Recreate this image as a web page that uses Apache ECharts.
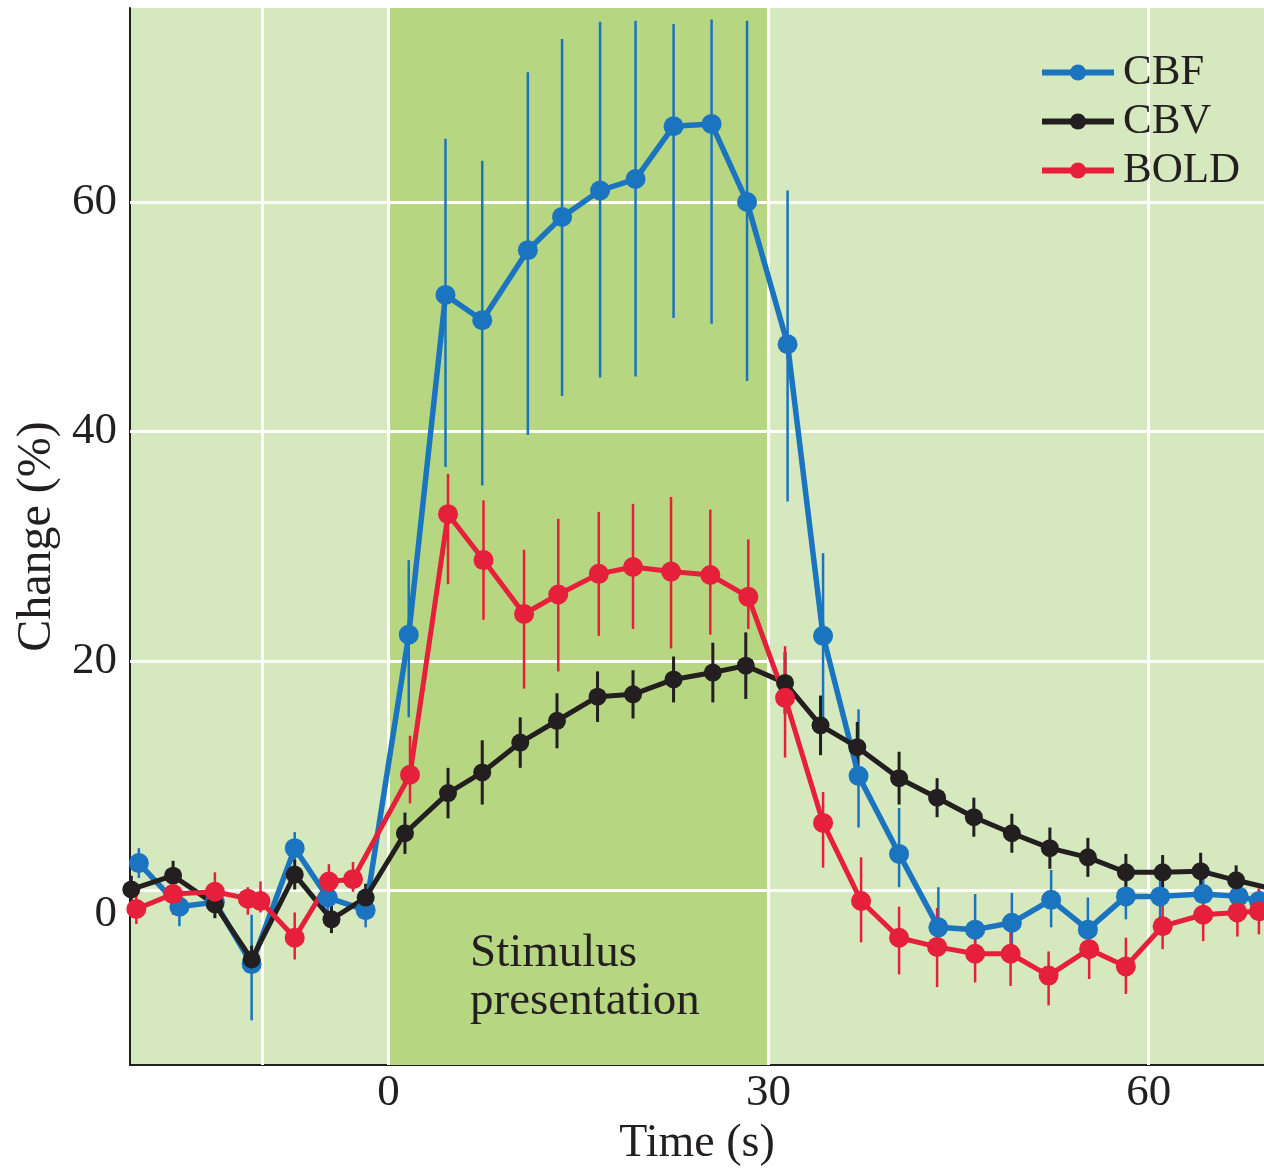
<!DOCTYPE html>
<html>
<head>
<meta charset="utf-8">
<script src="https://cdn.jsdelivr.net/npm/echarts@6/dist/echarts.min.js"></script>
<style>
html,body{margin:0;padding:0;background:#fff;overflow:hidden;}
#chart{width:1264px;height:1172px;}
</style>
</head>
<body>
<div id="chart"></div>
<script>
// ---------- data ----------
const xTickValues = [0, 30, 60];
const yTickValues = [0, 20, 40, 60];
const xGridValues = [-10, 0, 30, 60];
const yGridValues = [0, 20, 40, 60];
const stimulusWindow = [0, 30];

const seriesNames = ['CBF', 'CBV', 'BOLD'];

const cbfTime  = [-19.7, -16.5, -13.7, -10.8, -7.4, -4.8, -1.8, 1.6, 4.5, 7.4, 11.0, 13.7, 16.7, 19.5, 22.5, 25.5, 28.3, 31.5, 34.3, 37.1, 40.3, 43.4, 46.3, 49.2, 52.3, 55.2, 58.2, 60.9, 64.3, 67.1, 68.7];
const cbfValue = [2.4, -1.4, -1.0, -6.4, 3.7, -0.6, -1.7, 22.3, 51.9, 49.7, 55.8, 58.7, 61.0, 62.0, 66.6, 66.8, 60.0, 47.6, 22.2, 10.0, 3.2, -3.2, -3.4, -2.8, -0.8, -3.4, -0.5, -0.5, -0.3, -0.5, -0.9];
const cbfLow   = [1.1, -3.1, -2.0, -11.3, 2.5, -1.8, -3.2, 15.1, 36.9, 35.3, 39.7, 43.1, 44.7, 44.8, 49.9, 49.4, 44.4, 33.9, 14.4, 5.5, 0.3, -5.7, -5.5, -5.2, -3.2, -6.0, -2.5, -2.3, -2.1, -2.0, -1.9];
const cbfHigh  = [3.7, 0.3, 0.0, -2.1, 5.1, 0.6, -0.2, 28.8, 65.5, 63.6, 71.3, 74.2, 75.7, 75.8, 75.5, 75.9, 75.8, 61.0, 29.4, 15.8, 7.2, 0.3, -0.3, -0.2, 1.8, -0.6, 1.5, 1.3, 1.5, 1.0, 0.1];

const cbvTime  = [-20.3, -17.0, -13.7, -10.8, -7.4, -4.5, -1.8, 1.3, 4.7, 7.4, 10.4, 13.3, 16.5, 19.3, 22.5, 25.6, 28.2, 31.3, 34.1, 37.0, 40.3, 43.3, 46.2, 49.2, 52.2, 55.2, 58.2, 61.1, 64.1, 66.9, 69.6];
const cbvValue = [0.1, 1.3, -1.2, -6.0, 1.4, -2.5, -0.6, 5.0, 8.5, 10.3, 12.9, 14.8, 16.9, 17.1, 18.4, 19.0, 19.6, 18.1, 14.4, 12.5, 9.8, 8.1, 6.4, 5.0, 3.7, 2.9, 1.6, 1.6, 1.7, 0.9, 0.2];
const cbvError = [1.2, 1.3, 1.2, 1.2, 1.3, 1.2, 1.2, 1.8, 2.2, 2.8, 2.2, 2.4, 2.2, 2.1, 2.0, 2.6, 2.9, 2.7, 2.6, 2.2, 2.3, 1.7, 1.7, 1.7, 1.8, 1.7, 1.6, 1.5, 1.6, 1.3, 1.0];

const boldTime  = [-19.9, -17.0, -13.7, -11.1, -10.1, -7.4, -4.7, -2.8, 1.7, 4.7, 7.5, 10.7, 13.4, 16.6, 19.3, 22.3, 25.4, 28.4, 31.3, 34.3, 37.3, 40.3, 43.3, 46.3, 49.1, 52.1, 55.3, 58.2, 61.1, 64.3, 67.0, 68.7];
const boldValue = [-1.6, -0.3, -0.1, -0.7, -0.9, -4.1, 0.8, 1.0, 10.1, 32.8, 28.8, 24.1, 25.8, 27.6, 28.2, 27.8, 27.5, 25.6, 16.8, 5.9, -0.9, -4.1, -4.9, -5.5, -5.5, -7.4, -5.1, -6.6, -3.1, -2.1, -1.9, -1.8];
const boldLow   = [-2.9, -2.1, -1.5, -2.1, -1.9, -6.0, -1.0, -0.1, 7.6, 26.7, 23.6, 17.6, 19.1, 22.2, 22.8, 21.1, 22.3, 22.8, 11.6, 2.0, -4.5, -7.3, -8.4, -8.0, -8.3, -10.0, -7.7, -9.0, -5.1, -4.4, -4.0, -3.8];
const boldHigh  = [-0.3, 1.4, 1.6, 0.3, 0.8, -1.9, 2.3, 2.5, 13.5, 36.3, 34.0, 29.7, 32.4, 33.0, 33.7, 34.3, 33.2, 30.6, 21.3, 8.6, 2.9, -1.4, -1.5, -3.2, -2.8, -5.3, -2.9, -4.1, -1.2, 0.3, 0.2, 0.2];

// ---------- styles ----------
const COLORS = { CBF: '#1b74bf', CBV: '#231f20', BOLD: '#e61f3b' };
const FONT = "'Liberation Serif', 'DejaVu Serif', serif";
const TEXT = '#231f20';

function zip2(a, b) { return a.map((v, i) => [v, b[i]]); }
function zip3(a, b, c) { return a.map((v, i) => [v, b[i], c[i]]); }

function errorSeries(name, color, data, width) {
  return {
    name: name + ' error',
    type: 'custom',
    z: 3,
    silent: true,
    data: data,
    renderItem: function (params, api) {
      const p1 = api.coord([api.value(0), api.value(1)]);
      const p2 = api.coord([api.value(0), api.value(2)]);
      return {
        type: 'line',
        shape: { x1: p1[0], y1: p1[1], x2: p2[0], y2: p2[1] },
        style: { stroke: color, lineWidth: width }
      };
    }
  };
}

function lineSeries(name, data, size, width) {
  return {
    name: name,
    type: 'line',
    z: 4,
    data: data,
    symbol: 'circle',
    symbolSize: size,
    showAllSymbol: true,
    smooth: false,
    clip: true,
    lineStyle: { color: COLORS[name], width: width },
    itemStyle: { color: COLORS[name] },
    emphasis: { disabled: true }
  };
}

const chart = echarts.init(document.getElementById('chart'), null, { renderer: 'canvas', width: 1264, height: 1172 });

const option = {
  animation: false,
  backgroundColor: '#ffffff',
  textStyle: { fontFamily: FONT },
  grid: {
    left: 130, right: 0, top: 8, bottom: 100,
    show: true, backgroundColor: '#d6e8bd', borderWidth: 0
  },
  legend: {
    data: seriesNames,
    orient: 'vertical',
    left: 1034, top: 46,
    itemWidth: 72, itemHeight: 20, itemGap: 6,
    lineStyle: { width: 6 },
    textStyle: { fontFamily: FONT, fontSize: 43, color: TEXT, padding: [0, 0, 0, 4] }
  },
  xAxis: {
    type: 'value',
    min: -20.4, max: 69.1,
    name: 'Time (s)',
    nameLocation: 'middle',
    nameGap: 50,
    nameTextStyle: { fontFamily: FONT, fontSize: 46, color: TEXT },
    axisLine: { show: true, onZero: false, lineStyle: { color: '#231f20', width: 2 } },
    axisTick: { show: true, inside: true, length: 20, customValues: xTickValues, lineStyle: { color: '#231f20', width: 2 } },
    axisLabel: { customValues: xTickValues, fontFamily: FONT, fontSize: 45, color: TEXT, margin: 6 },
    splitLine: { show: false }
  },
  yAxis: {
    type: 'value',
    min: -15.2, max: 76.9,
    name: 'Change (%)',
    nameLocation: 'middle',
    nameGap: 66,
    nameRotate: 90,
    nameTextStyle: { fontFamily: FONT, fontSize: 48, color: TEXT },
    axisLine: { show: true, onZero: false, lineStyle: { color: '#231f20', width: 2 } },
    axisTick: { show: true, inside: true, length: 20, customValues: yTickValues, lineStyle: { color: '#231f20', width: 2 } },
    axisLabel: {
      customValues: yTickValues, fontFamily: FONT, fontSize: 45, color: TEXT, margin: 13,
      formatter: function (v) { return v === 0 ? '{z|0}' : String(v); },
      rich: { z: { fontFamily: FONT, fontSize: 45, color: TEXT, padding: [48, 0, 0, 0] } }
    },
    splitLine: { show: false }
  },
  graphic: [{
    type: 'text',
    left: 470, top: 930,
    silent: true,
    style: {
      text: 'Stimulus\npresentation',
      font: "47px 'Liberation Serif', 'DejaVu Serif', serif",
      fill: TEXT,
      lineHeight: 48
    },
    z: 5
  }],
  series: [
    {
      name: 'stimulus',
      type: 'scatter',
      data: [],
      silent: true,
      z: 1,
      markArea: {
        silent: true,
        z: 1,
        itemStyle: { color: '#b7d681', opacity: 1 },
        data: [[{ xAxis: stimulusWindow[0] }, { xAxis: stimulusWindow[1] }]]
      }
    },
    {
      name: 'gridlines',
      type: 'scatter',
      data: [],
      silent: true,
      z: 2,
      markLine: {
        silent: true,
        z: 2,
        symbol: ['none', 'none'],
        label: { show: false },
        lineStyle: { color: '#ffffff', width: 3, type: 'solid', opacity: 1 },
        data: xGridValues.map(v => ({ xAxis: v })).concat(yGridValues.map(v => ({ yAxis: v })))
      }
    },
    errorSeries('CBF', COLORS.CBF, zip3(cbfTime, cbfLow, cbfHigh), 2.5),
    errorSeries('CBV', COLORS.CBV, zip3(cbvTime, cbvValue.map((v, i) => v - cbvError[i]), cbvValue.map((v, i) => v + cbvError[i])), 3),
    errorSeries('BOLD', COLORS.BOLD, zip3(boldTime, boldLow, boldHigh), 2.5),
    lineSeries('CBF', zip2(cbfTime, cbfValue), 20, 5.5),
    lineSeries('CBV', zip2(cbvTime, cbvValue), 18, 5),
    lineSeries('BOLD', zip2(boldTime, boldValue), 20, 5)
  ]
};

chart.setOption(option);
</script>
</body>
</html>
